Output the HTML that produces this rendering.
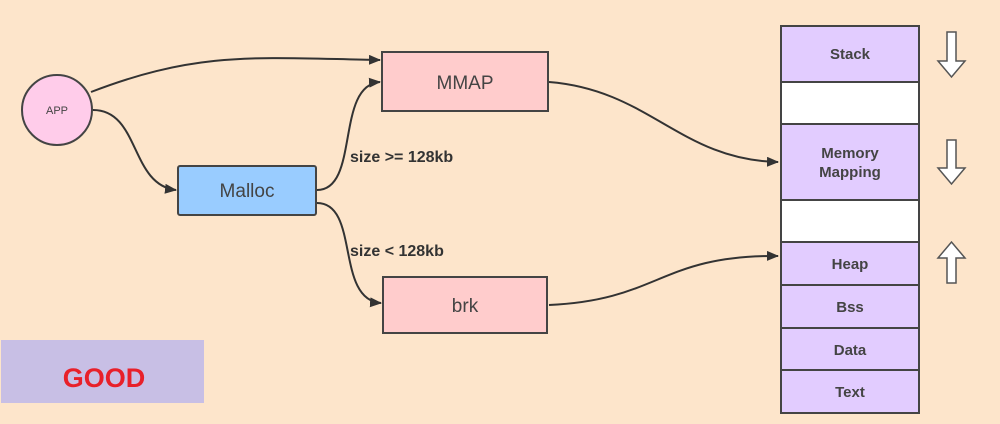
<!DOCTYPE html>
<html><head><meta charset="utf-8"><style>
html,body{margin:0;padding:0;background:#fde5cb;}
svg{display:block;font-family:"Liberation Sans",sans-serif;}
</style></head><body>
<svg width="1000" height="424" viewBox="0 0 1000 424" xmlns="http://www.w3.org/2000/svg">
<defs><marker id="a" markerWidth="12" markerHeight="10" refX="11" refY="5" orient="auto" markerUnits="userSpaceOnUse"><path d="M0,0 L12,5 L0,10 z" fill="#333"/></marker></defs>
<rect width="1000" height="424" fill="#fde5cb"/>
<g fill="none" stroke="#333" stroke-width="2">
<path d="M91,92 C200,50 260,58 380,60" marker-end="url(#a)"/>
<path d="M93,110 C140,110 130,185 176,190" marker-end="url(#a)"/>
<path d="M317,190 C360,190 335,85 380,82" marker-end="url(#a)"/>
<path d="M317,203 C360,203 335,300 381,303" marker-end="url(#a)"/>
<path d="M549,82 C650,90 680,160 778,162" marker-end="url(#a)"/>
<path d="M549,305 C660,300 660,255 778,256" marker-end="url(#a)"/>
</g>
<circle cx="57" cy="110" r="35" fill="#ffccea" stroke="#444" stroke-width="2"/>
<text x="57" y="114" font-size="11" text-anchor="middle" fill="#444">APP</text>
<rect x="382" y="52" width="166" height="59" fill="#ffcccc" stroke="#444" stroke-width="2"/>
<text x="465" y="89" font-size="19" text-anchor="middle" fill="#444">MMAP</text>
<rect x="178" y="166" width="138" height="49" rx="2" fill="#99ccff" stroke="#444" stroke-width="2"/>
<text x="247" y="197" font-size="19" text-anchor="middle" fill="#444">Malloc</text>
<rect x="383" y="277" width="164" height="56" fill="#ffcccc" stroke="#444" stroke-width="2"/>
<text x="465" y="312" font-size="19" text-anchor="middle" fill="#444">brk</text>
<text x="350" y="162" font-size="16" font-weight="bold" fill="#333">size &gt;= 128kb</text>
<text x="350" y="256" font-size="16" font-weight="bold" fill="#333">size &lt; 128kb</text>
<g stroke="#444" stroke-width="2">
<rect x="781" y="26" width="138" height="56" fill="#e2ccff"/>
<rect x="781" y="82" width="138" height="42" fill="#fff"/>
<rect x="781" y="124" width="138" height="76" fill="#e2ccff"/>
<rect x="781" y="200" width="138" height="42" fill="#fff"/>
<rect x="781" y="242" width="138" height="43" fill="#e2ccff"/>
<rect x="781" y="285" width="138" height="43" fill="#e2ccff"/>
<rect x="781" y="328" width="138" height="42" fill="#e2ccff"/>
<rect x="781" y="370" width="138" height="43" fill="#e2ccff"/>
</g>
<g font-size="15" font-weight="bold" fill="#444" text-anchor="middle">
<text x="850" y="59">Stack</text>
<text x="850" y="158">Memory</text>
<text x="850" y="177">Mapping</text>
<text x="850" y="269">Heap</text>
<text x="850" y="312">Bss</text>
<text x="850" y="355">Data</text>
<text x="850" y="397">Text</text>
</g>
<g fill="#fff" stroke="#555" stroke-width="1.5">
<path d="M947,32 h9 v29 h9 l-13.5,16 l-13.5,-16 h9 z"/>
<path d="M947,140 h9 v28 h9 l-13.5,16 l-13.5,-16 h9 z"/>
<path d="M947,283 h9 v-25 h9 l-13.5,-16 l-13.5,16 h9 z"/>
</g>
<rect x="1" y="340" width="203" height="63" fill="#c8bfe5"/>
<text x="104" y="387" font-size="27" font-weight="bold" fill="#e8202a" text-anchor="middle">GOOD</text>
</svg>
</body></html>
